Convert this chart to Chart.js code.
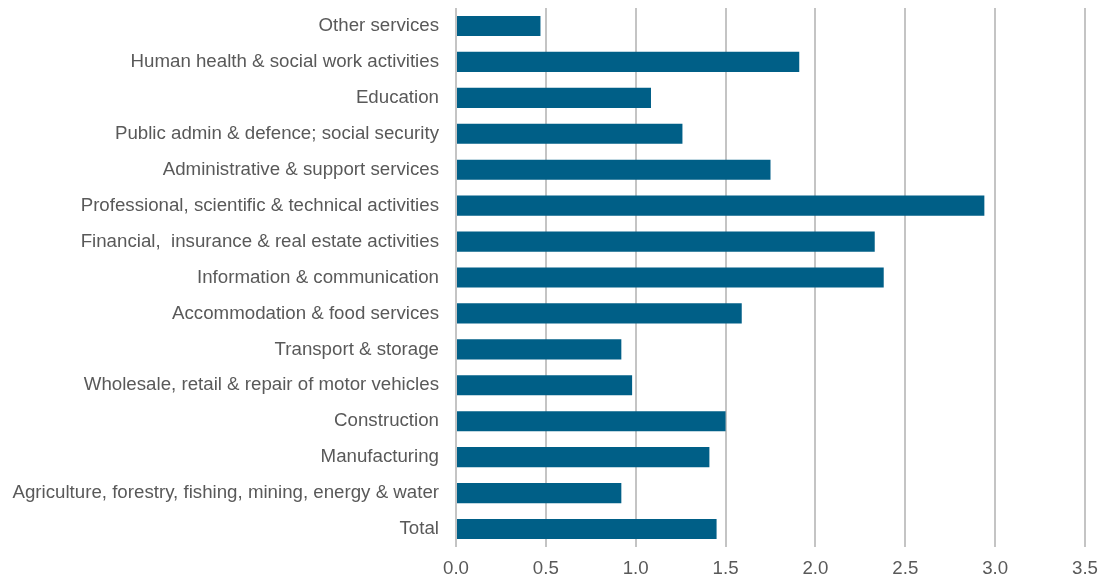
<!DOCTYPE html>
<html>
<head>
<meta charset="utf-8">
<script src="https://cdn.jsdelivr.net/npm/chart.js@4/dist/chart.umd.min.js"></script>
<style>
  html, body { margin: 0; padding: 0; background: #ffffff; }
  #wrap { width: 1108px; height: 582px; }
</style>
</head>
<body>
<div id="wrap"><canvas id="myChart" width="1108" height="582"></canvas></div>
<script>
// categories, du haut vers le bas
const categories = [
  "Other services",
  "Human health & social work activities",
  "Education",
  "Public admin & defence; social security",
  "Administrative & support services",
  "Professional, scientific & technical activities",
  "Financial,  insurance & real estate activities",
  "Information & communication",
  "Accommodation & food services",
  "Transport & storage",
  "Wholesale, retail & repair of motor vehicles",
  "Construction",
  "Manufacturing",
  "Agriculture, forestry, fishing, mining, energy & water",
  "Total"
];
const values = [0.47, 1.91, 1.085, 1.26, 1.75, 2.94, 2.33, 2.38, 1.59, 0.92, 0.98, 1.50, 1.41, 0.92, 1.45];
const xTicks = [0, 0.5, 1.0, 1.5, 2.0, 2.5, 3.0, 3.5];

const labelFont = { family: 'Liberation Sans, Arial', size: 18.7 };

const ctx = document.getElementById('myChart');
const chart = new Chart(ctx, {
  type: 'bar',
  data: {
    labels: categories,
    datasets: [{
      data: values,
      backgroundColor: '#005f87',
      borderWidth: 0,
      barPercentage: 0.56,
      categoryPercentage: 1.0
    }]
  },
  options: {
    indexAxis: 'y',
    responsive: false,
    animation: false,
    layout: { padding: { top: 8, right: 23, left: 0, bottom: 0 } },
    plugins: { legend: { display: false }, tooltip: { enabled: false } },
    scales: {
      x: {
        min: 0,
        max: 3.5,
        afterBuildTicks: function(scale) {
          scale.ticks = xTicks.map(v => ({ value: v }));
        },
        afterFit: function(scale) {
          scale.height = 35;
          scale.paddingLeft = 0;
          scale.paddingRight = 0;
        },
        grid: { color: '#c4c4c4', lineWidth: 2, drawTicks: false },
        border: { display: false },
        ticks: {
          padding: 11,
          color: '#595959',
          font: labelFont,
          callback: function(v) { return Number(v).toFixed(1); }
        }
      },
      y: {
        afterFit: function(scale) {
          scale.width = 456;
          scale.paddingTop = 0;
          scale.paddingBottom = 0;
        },
        grid: { display: false, drawTicks: false },
        border: { display: false },
        ticks: {
          padding: 17,
          color: '#595959',
          font: labelFont
        }
      }
    }
  }
});
</script>
</body>
</html>
